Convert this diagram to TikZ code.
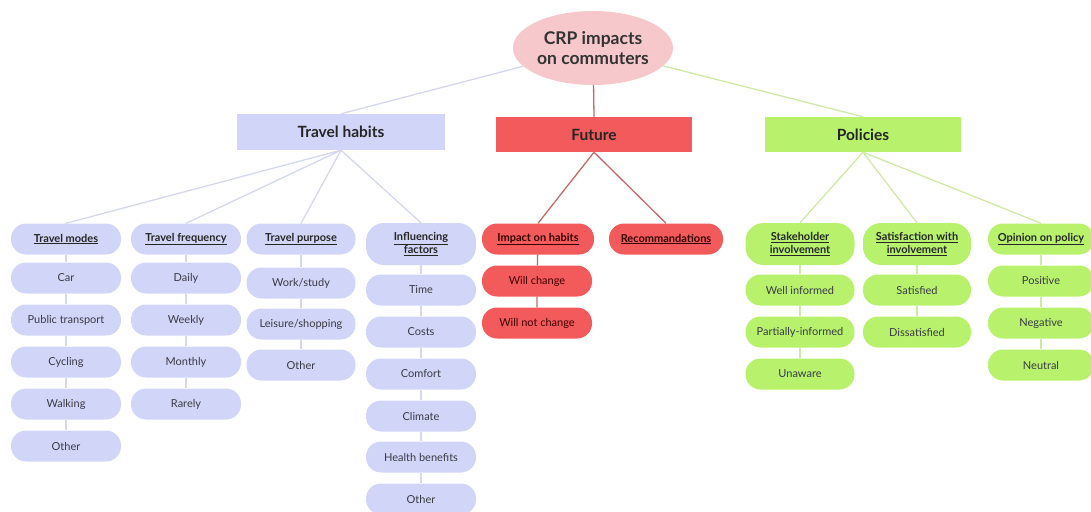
\documentclass[tikz,border=0pt]{standalone}
\usepackage{fontspec}
\setmainfont{Lato}
\usetikzlibrary{backgrounds,shapes.geometric}
\definecolor{lav}{HTML}{D1D6F8}
\definecolor{lavline}{HTML}{D4D7EE}
\definecolor{redf}{HTML}{F35A5B}
\definecolor{redline}{HTML}{C46A66}
\definecolor{grn}{HTML}{B8F26C}
\definecolor{grnline}{HTML}{CDEBA6}
\definecolor{pinkf}{HTML}{F7C8CB}
\definecolor{txt}{HTML}{3A3A44}
\tikzset{
  pill/.style={rectangle, rounded corners=15pt, minimum height=31pt, inner sep=2pt,
    align=center, font=\fontsize{11}{12}\selectfont, text=txt},
  head/.style={pill, font=\bfseries\fontsize{11}{12.5}\selectfont, text=black!85},
  lavp/.style={fill=lav},
  redp/.style={fill=redf},
  grnp/.style={fill=grn},
  main/.style={rectangle, minimum height=36pt, font=\bfseries\fontsize{15.5}{17}\selectfont, text=black!85},
  lavl/.style={draw=lavline, line width=1.3pt},
  redl/.style={draw=redline, line width=1.3pt},
  grnl/.style={draw=grnline, line width=1.3pt},
}
\newcommand{\ul}[1]{\underline{#1}}
\begin{document}
\begin{tikzpicture}[x=1pt,y=-1pt]
\useasboundingbox (0,0) rectangle (1091,511);
% root
\node[ellipse, fill=pinkf, minimum width=160pt, minimum height=74pt, inner sep=0pt, align=center,
  font=\bfseries\fontsize{17.5}{20}\selectfont, text=black!80] (root) at (593,48) {CRP impacts\\on commuters};
% main categories
\node[main, fill=lav, minimum width=208pt] (th) at (341,132) {Travel habits};
\node[main, fill=redf, minimum width=196pt, minimum height=35pt] (fu) at (594,134.5) {Future};
\node[main, fill=grn, minimum width=196pt, minimum height=35pt] (po) at (863,134.5) {Policies};
% Travel modes
\node[head, lavp, minimum width=110pt] (tm) at (66,239) {\ul{Travel modes}};
\node[pill, lavp, minimum width=110pt] (tm1) at (66,278) {Car};
\node[pill, lavp, minimum width=110pt] (tm2) at (66,320) {Public transport};
\node[pill, lavp, minimum width=110pt] (tm3) at (66,362) {Cycling};
\node[pill, lavp, minimum width=110pt] (tm4) at (66,404) {Walking};
\node[pill, lavp, minimum width=110pt] (tm5) at (66,446) {Other};
% Travel frequency
\node[head, lavp, minimum width=110pt] (tf) at (186,239) {\ul{Travel frequency}};
\node[pill, lavp, minimum width=110pt] (tf1) at (186,278) {Daily};
\node[pill, lavp, minimum width=110pt] (tf2) at (186,320) {Weekly};
\node[pill, lavp, minimum width=110pt] (tf3) at (186,362) {Monthly};
\node[pill, lavp, minimum width=110pt] (tf4) at (186,404) {Rarely};
% Travel purpose
\node[head, lavp, minimum width=109pt] (tp) at (301,239) {\ul{Travel purpose}};
\node[pill, lavp, minimum width=109pt] (tp1) at (301,283) {Work/study};
\node[pill, lavp, minimum width=109pt] (tp2) at (301,324) {Leisure/shopping};
\node[pill, lavp, minimum width=109pt] (tp3) at (301,365) {Other};
% Influencing factors
\node[head, lavp, minimum width=110pt, minimum height=42pt, rounded corners=18pt] (inf) at (421,244) {\ul{Influencing}\\\ul{factors}};
\node[pill, lavp, minimum width=110pt] (inf1) at (421,290) {Time};
\node[pill, lavp, minimum width=110pt] (inf2) at (421,332) {Costs};
\node[pill, lavp, minimum width=110pt] (inf3) at (421,374) {Comfort};
\node[pill, lavp, minimum width=110pt] (inf4) at (421,416) {Climate};
\node[pill, lavp, minimum width=110pt] (inf5) at (421,457) {Health benefits};
\node[pill, lavp, minimum width=110pt] (inf6) at (421,499) {Other};
% Future
\node[head, redp, minimum width=112pt, text={black!80!red}] (ih) at (538,239) {\ul{Impact on habits}};
\node[pill, redp, minimum width=110pt, text={black!75!red}] (ih1) at (537,281) {Will change};
\node[pill, redp, minimum width=110pt, text={black!75!red}] (ih2) at (537,323) {Will not change};
\node[head, redp, minimum width=114pt, text={black!80!red}] (rec) at (666,239) {\ul{Recommandations}};
% Policies
\node[head, grnp, minimum width=109pt, minimum height=42pt, rounded corners=18pt] (sh) at (800,244) {\ul{Stakeholder}\\\ul{involvement}};
\node[pill, grnp, minimum width=109pt] (sh1) at (800,290) {Well informed};
\node[pill, grnp, minimum width=109pt] (sh2) at (800,332) {Partially-informed};
\node[pill, grnp, minimum width=109pt] (sh3) at (800,374) {Unaware};
\node[head, grnp, minimum width=108pt, minimum height=42pt, rounded corners=18pt] (sa) at (917,244) {\ul{Satisfaction with}\\\ul{involvement}};
\node[pill, grnp, minimum width=108pt] (sa1) at (917,290) {Satisfied};
\node[pill, grnp, minimum width=108pt] (sa2) at (917,332) {Dissatisfied};
\node[head, grnp, minimum width=106pt] (op) at (1041,239) {\ul{Opinion on policy}};
\node[pill, grnp, minimum width=106pt] (op1) at (1041,281) {Positive};
\node[pill, grnp, minimum width=106pt] (op2) at (1041,323) {Negative};
\node[pill, grnp, minimum width=106pt] (op3) at (1041,365) {Neutral};
\begin{scope}[on background layer]
\draw[lavl] (root) -- (th.north);
\draw[redl] (root) -- (fu.north);
\draw[grnl] (root) -- (po.north);
\foreach \c in {tm,tf,tp,inf} \draw[lavl] (th.south) -- (\c.north);
\foreach \c in {ih,rec} \draw[redl] (fu.south) -- (\c.north);
\foreach \c in {sh,sa,op} \draw[grnl] (po.south) -- (\c.north);
\draw[lavl] (tm) -- (tm1) -- (tm2) -- (tm3) -- (tm4) -- (tm5);
\draw[lavl] (tf) -- (tf1) -- (tf2) -- (tf3) -- (tf4);
\draw[lavl] (tp) -- (tp1) -- (tp2) -- (tp3);
\draw[lavl] (inf) -- (inf1) -- (inf2) -- (inf3) -- (inf4) -- (inf5) -- (inf6);
\draw[redl] (ih) -- (ih1) -- (ih2);
\draw[grnl] (sh) -- (sh1) -- (sh2) -- (sh3);
\draw[grnl] (sa) -- (sa1) -- (sa2);
\draw[grnl] (op) -- (op1) -- (op2) -- (op3);
\end{scope}
\end{tikzpicture}
\end{document}
